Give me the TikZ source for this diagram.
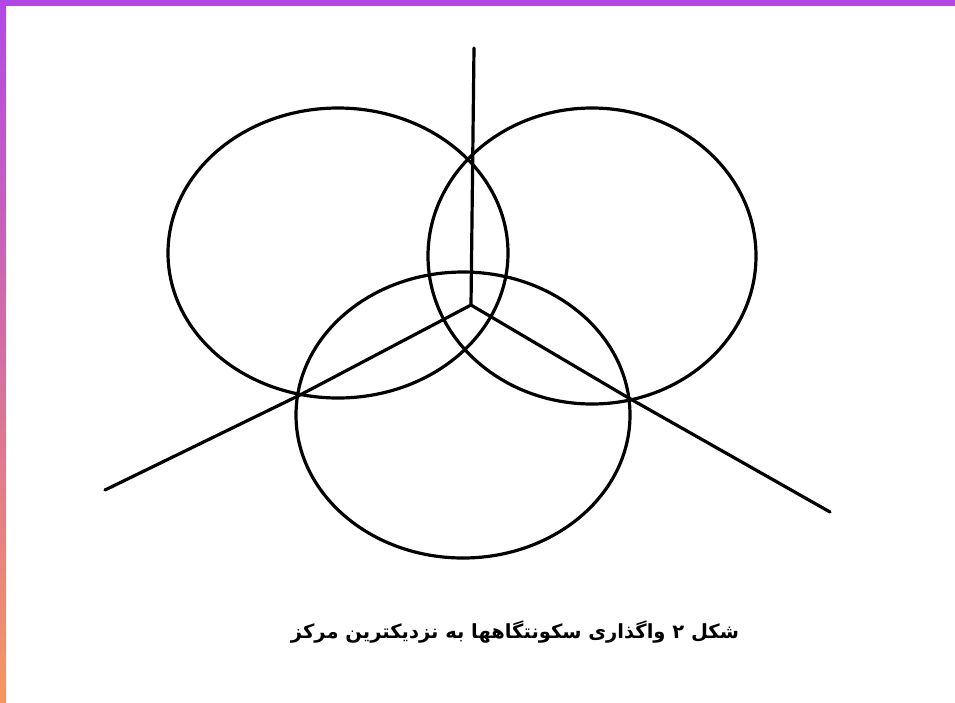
\documentclass[tikz,border=0pt]{standalone}
\usepackage{fontspec}
\newfontfamily\arabicfont[Script=Arabic]{DejaVu Sans}
\TeXXeTstate=1
\definecolor{barpurple}{HTML}{B347E6}
\definecolor{barorange}{HTML}{F7955F}
\begin{document}
\begin{tikzpicture}[x=1pt,y=-1pt,
  ring/.style={line width=3.2pt,draw=black},
  edge/.style={line width=3.2pt,draw=black,line cap=round}]
\useasboundingbox (0,0) rectangle (955,702);
\fill[white] (0,0) rectangle (955,702);
% frame bars
\fill[barpurple] (0,0) rectangle (955,6);
\shade[top color=barpurple,bottom color=barorange] (0,0) rectangle (6,702);
% circles
\draw[ring] (338,253) ellipse [x radius=170,y radius=145];
\draw[ring] (592,256) ellipse [x radius=164,y radius=148];
\draw[ring] (463,415) ellipse [x radius=167,y radius=143];
% Voronoi edges
\coordinate (c) at (471,305);
\coordinate (top) at (474,48);
\coordinate (l) at (105,490);
\coordinate (r) at (830,512);
\draw[edge] (c) -- (top);
\draw[edge] (c) -- (300,395) -- (l);
\draw[edge] (c) -- (627,397) -- (r);
% caption
\node[font=\arabicfont\bfseries\fontsize{19.5}{23}\selectfont,inner sep=0] (cap) at (515,632)
  {\beginR شکل ۲ واگذاری سکونتگاهها به نزدیکترین مرکز\endR};
\end{tikzpicture}
\end{document}
